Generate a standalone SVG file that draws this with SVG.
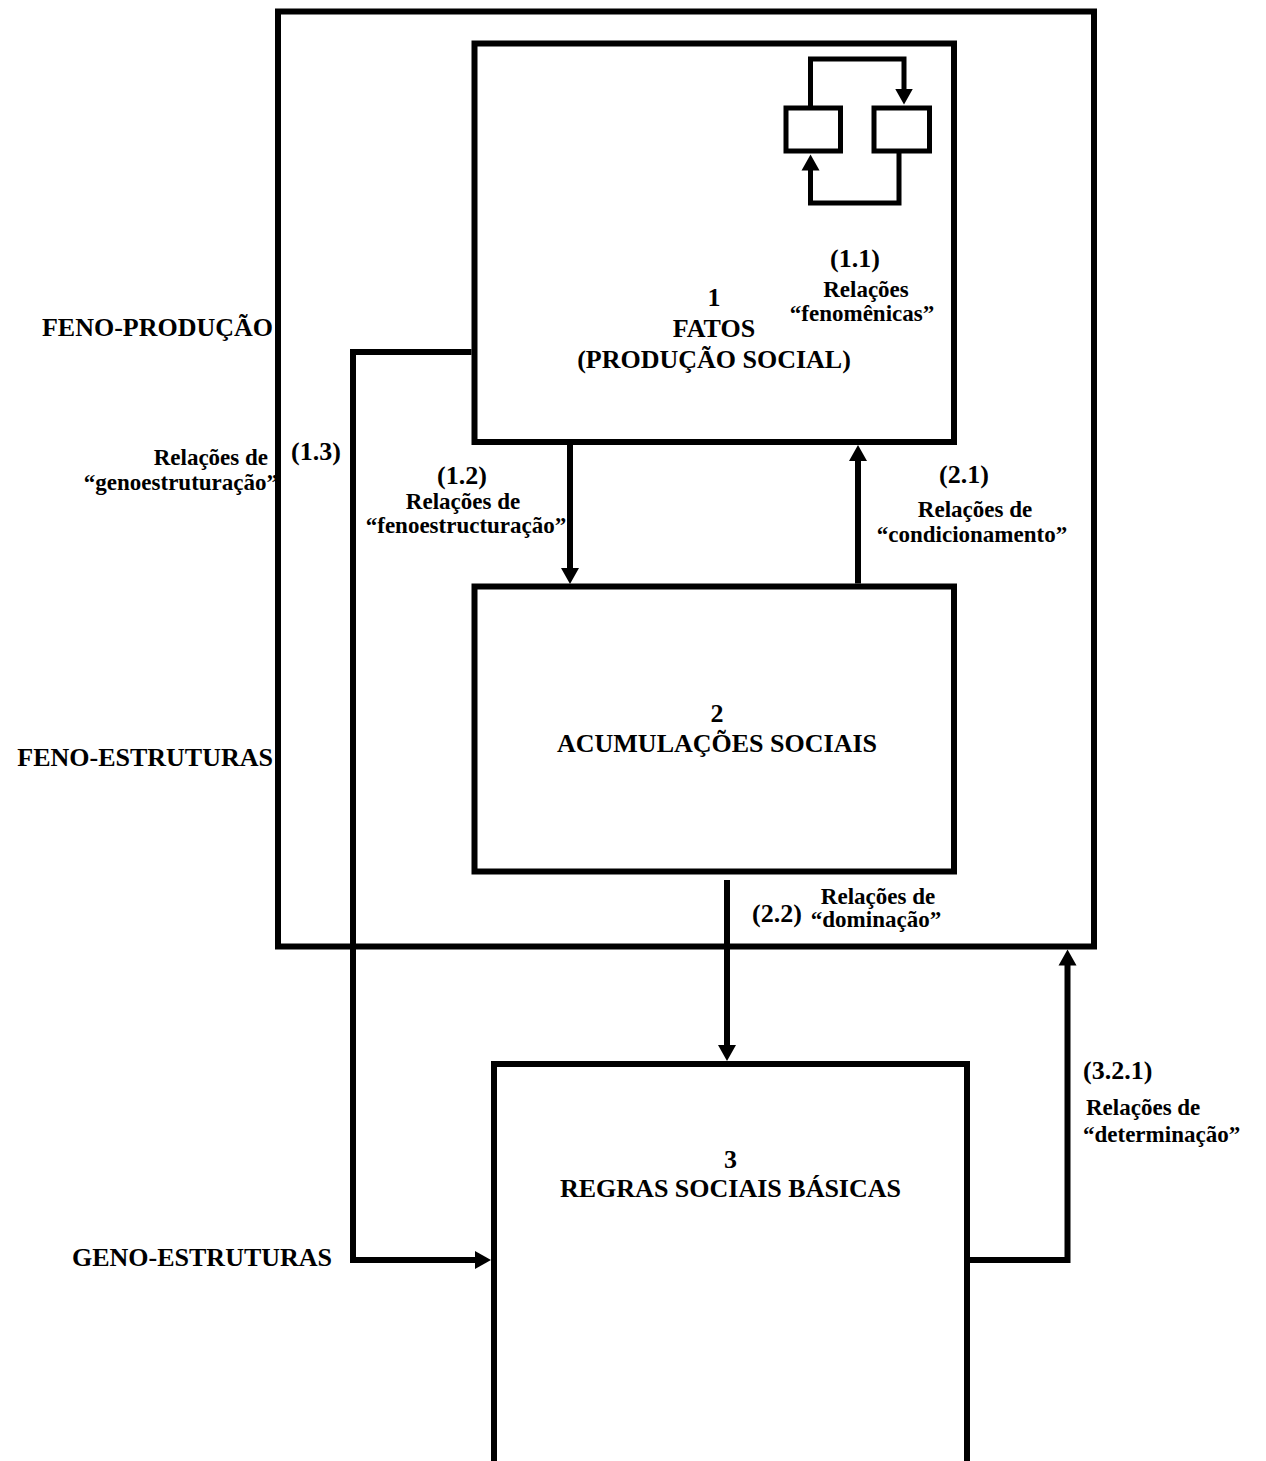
<svg xmlns="http://www.w3.org/2000/svg" width="1266" height="1461" viewBox="0 0 1266 1461">
  <style>
    .frame { fill: none; stroke: #000; stroke-width: 6; stroke-linejoin: miter; }
    .mini { fill: none; stroke: #000; stroke-width: 5; stroke-linejoin: miter; }
    .wire { fill: none; stroke: #000; stroke-width: 6; stroke-linejoin: miter; marker-end: url(#head); }
    .mini-wire { fill: none; stroke: #000; stroke-width: 5; stroke-linejoin: miter; marker-end: url(#head); }
    text { font-family: "Liberation Serif", "Times New Roman", serif; font-weight: bold; fill: #000; }
    .big { font-size: 26px; }
    .rel { font-size: 23px; }
    .mid { text-anchor: middle; }
    .end { text-anchor: end; }
  </style>
  <defs>
    <marker id="head" markerUnits="userSpaceOnUse" markerWidth="18" markerHeight="20" viewBox="0 -10 18 20" refX="1" refY="0" orient="auto">
      <path d="M0,-9 L16,0 L0,9 Z" fill="#000"/>
    </marker>
  </defs>

  <rect width="1266" height="1461" fill="#fff"/>

  <!-- outer frame: the phenomenal level -->
  <g id="feno-frame">
    <rect class="frame" x="278" y="11.5" width="816" height="935"/>
  </g>

  <!-- side captions -->
  <g id="captions">
    <text class="big end" x="273" y="336">FENO-PRODUÇÃO</text>
    <text class="big end" x="273" y="766">FENO-ESTRUTURAS</text>
    <text class="big" x="72" y="1266">GENO-ESTRUTURAS</text>
  </g>

  <!-- node 1 -->
  <g id="node-fatos">
    <rect class="frame" x="474.5" y="43.5" width="479.5" height="398.5"/>
    <text class="big mid" x="714" y="306">1</text>
    <text class="big mid" x="714" y="337">FATOS</text>
    <text class="big mid" x="714" y="368">(PRODUÇÃO SOCIAL)</text>
  </g>

  <!-- small loop inside node 1 -->
  <g id="loop-mini">
    <rect class="mini" x="786" y="108" width="54.5" height="43"/>
    <rect class="mini" x="874" y="108" width="55.5" height="43"/>
    <path class="mini-wire" d="M810.5 108 V59 H904 V89.5"/>
    <path class="mini-wire" d="M899 151 V203 H810.5 V169.5"/>
    <text class="big mid" x="855" y="267">(1.1)</text>
    <text class="rel mid" x="866" y="297">Relações</text>
    <text class="rel mid" x="862" y="321">“fenomênicas”</text>
  </g>

  <!-- node 2 -->
  <g id="node-acumulacoes">
    <rect class="frame" x="474.5" y="586.5" width="479.5" height="285"/>
    <text class="big mid" x="717" y="722">2</text>
    <text class="big mid" x="717" y="752">ACUMULAÇÕES SOCIAIS</text>
  </g>

  <!-- node 3 (runs off the lower edge) -->
  <g id="node-regras">
    <path class="frame" d="M494 1470 V1064 H967 V1470"/>
    <text class="big mid" x="730.5" y="1168">3</text>
    <text class="big mid" x="730.5" y="1197">REGRAS SOCIAIS BÁSICAS</text>
  </g>

  <!-- connectors -->
  <g id="connectors">
    <!-- (1.2) fenoestruturação -->
    <path class="wire" d="M570 445 V569"/>
    <!-- (2.1) condicionamento -->
    <path class="wire" d="M858 583.5 V460"/>
    <!-- (2.2) dominação -->
    <path class="wire" d="M727 880 V1046"/>
    <!-- (3.2.1) determinação -->
    <path class="wire" d="M970 1260 H1067.5 V964.5"/>
    <!-- (1.3) genoestruturação -->
    <path class="wire" d="M471.5 352 H353 V1260 H476"/>
  </g>

  <!-- connector labels -->
  <g id="connector-labels">
    <text class="big mid" x="462" y="484">(1.2)</text>
    <text class="rel mid" x="463" y="509">Relações de</text>
    <text class="rel mid" x="466" y="533">“fenoestructuração”</text>

    <text class="big mid" x="964" y="483">(2.1)</text>
    <text class="rel mid" x="975" y="517">Relações de</text>
    <text class="rel mid" x="972" y="542">“condicionamento”</text>

    <text class="big" x="752" y="922">(2.2)</text>
    <text class="rel mid" x="878" y="904">Relações de</text>
    <text class="rel mid" x="876" y="927">“dominação”</text>

    <text class="big" x="1083" y="1079">(3.2.1)</text>
    <text class="rel" x="1086" y="1115">Relações de</text>
    <text class="rel" x="1083" y="1142">“determinação”</text>

    <text class="big" x="291" y="460">(1.3)</text>
    <text class="rel end" x="268" y="465">Relações de</text>
    <text class="rel end" x="278" y="490">“genoestruturação”</text>
  </g>
</svg>
